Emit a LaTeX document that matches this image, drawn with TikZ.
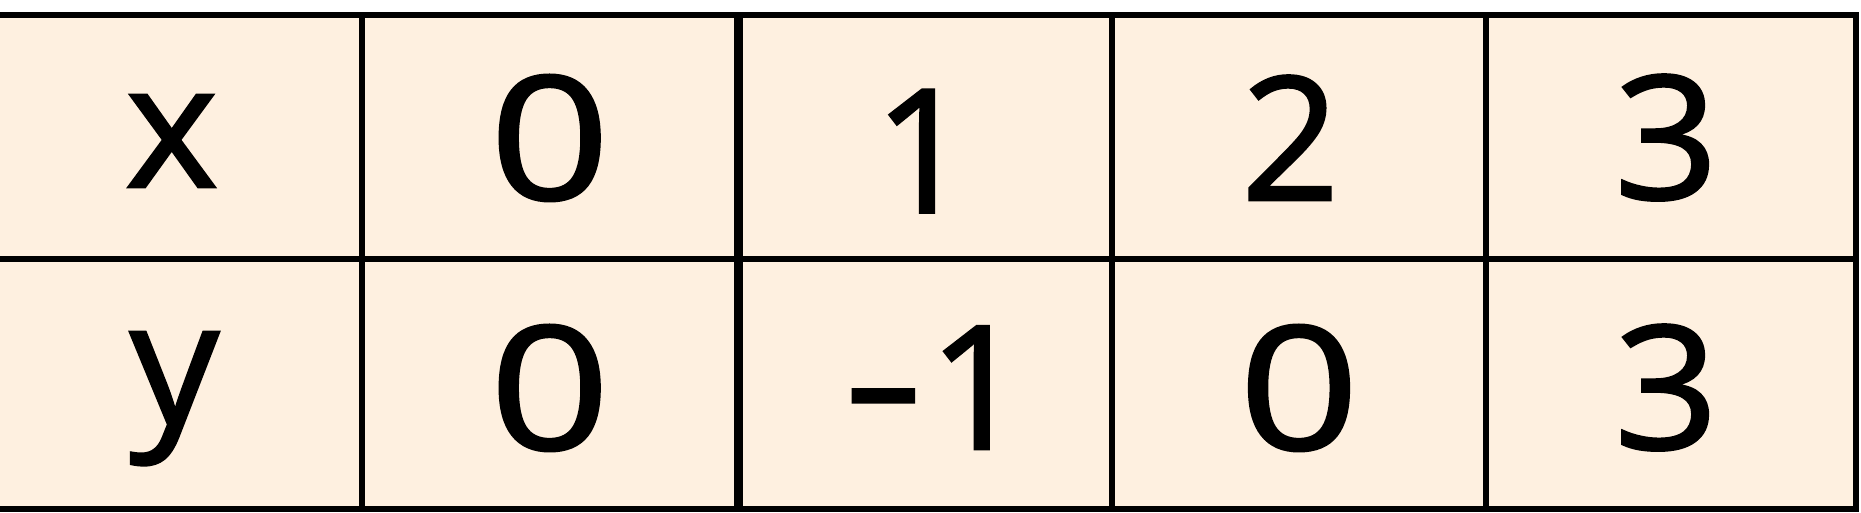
\documentclass[tikz,border=0pt]{standalone}
\usepackage{fontspec}
\setmainfont{Open Sans}[FakeBold=1.5]
\definecolor{cellfill}{RGB}{254,240,224}
\begin{document}
\begin{tikzpicture}[x=1pt,y=-1pt,
  gridline/.style={line width=6pt, black},
  thickline/.style={line width=9pt, black},
  celltext/.style={font=\fontsize{172}{172}\selectfont, anchor=base, inner sep=0pt}]
\useasboundingbox (0,0) rectangle (1861,512);
\clip (0,0) rectangle (1861,512);
\fill[white] (0,0) rectangle (1861,512);
\fill[cellfill] (-14,15.3) rectangle (1856,508.5);
% grid
\draw[gridline] (-14,259) -- (1856,259);
\draw[gridline] (362,15.3) -- (362,508.5);
\draw[thickline] (738,15.3) -- (738,508.5);
\draw[gridline] (1111.5,15.3) -- (1111.5,508.5);
\draw[gridline] (1485.7,15.3) -- (1485.7,508.5);
\draw[gridline] (-14,15.3) rectangle (1856,508.5);
% texts
\node[celltext] (hx) at (171.7,187) {\scalebox{1.03}[1]{x}};
\node[celltext] (x0) at (549.7,199.5) {\scalebox{1.22}[1]{0}};
\node[celltext] (x1) at (923,212.5) {1};
\node[celltext] (x2) at (1290.5,200) {2};
\node[celltext] (x3) at (1666.3,199) {\scalebox{1.06}[1]{3}};
\node[celltext] (hy) at (174.5,424) {\scalebox{1.03}[1]{y}};
\node[celltext] (y0) at (549.7,449.5) {\scalebox{1.22}[1]{0}};
\node[celltext, anchor=base west] (y1) at (843,449) {\raisebox{7pt}{\scalebox{1.45}[1]{-}}\kern5pt 1};
\node[celltext] (y2) at (1299,449.5) {\scalebox{1.22}[1]{0}};
\node[celltext] (y3) at (1666.3,449) {\scalebox{1.06}[1]{3}};
\end{tikzpicture}
\end{document}
